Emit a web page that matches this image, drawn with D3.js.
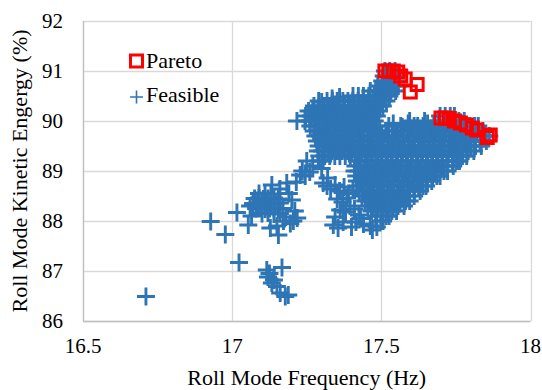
<!DOCTYPE html>
<html>
<head>
<meta charset="utf-8">
<script src="https://cdn.jsdelivr.net/npm/d3@7"></script>
<style>
  body { margin: 0; background: #fff; }
  svg text { font-family: "Liberation Serif", "Times New Roman", serif; fill: #000; }
</style>
</head>
<body>
<svg id="chart" width="542" height="390"></svg>
<script>
// axis ticks
var xTicks = [16.5, 17, 17.5, 18];
var yTicks = [86, 87, 88, 89, 90, 91, 92];

// Pareto front (red squares)
var paretoX = [17.512, 17.525, 17.54, 17.555, 17.565, 17.58, 17.62, 17.597,
               17.70, 17.715, 17.728, 17.745, 17.765, 17.785, 17.805, 17.82, 17.855, 17.865];
var paretoY = [91.0, 91.0, 91.0, 90.98, 90.9, 90.84, 90.73, 90.58,
               90.06, 90.06, 90.05, 90.0, 89.96, 89.92, 89.86, 89.82, 89.67, 89.72];

// feasible designs, main cloud read row by row: [kinetic energy, [frequencies]]
var feasibleRows = [
  [91.0, [17.512, 17.528, 17.546]],
  [90.9, [17.508, 17.522, 17.54, 17.553]],
  [90.8, [17.503, 17.518, 17.535, 17.556]],
  [90.7, [17.488, 17.505, 17.524, 17.541, 17.557]],
  [90.6, [17.463, 17.481, 17.497, 17.515, 17.532, 17.548]],
  [90.5, [17.405, 17.423, 17.44, 17.458, 17.476, 17.493, 17.511, 17.527]],
  [90.4, [17.318, 17.336, 17.352, 17.371, 17.388, 17.404, 17.422, 17.439, 17.457, 17.474, 17.49, 17.504, 17.517]],
  [90.3, [17.274, 17.291, 17.308, 17.326, 17.343, 17.361, 17.377, 17.395, 17.413, 17.43, 17.447, 17.464, 17.482, 17.494, 17.505]],
  [90.2, [17.256, 17.27, 17.288, 17.304, 17.322, 17.338, 17.356, 17.372, 17.39, 17.406, 17.424, 17.44, 17.458, 17.474, 17.492]],
  [90.1, [17.246, 17.264, 17.281, 17.298, 17.316, 17.333, 17.35, 17.368, 17.385, 17.402, 17.42, 17.437, 17.454, 17.47, 17.485,
          17.697, 17.714, 17.731, 17.745]],
  [90.0, [17.217, 17.244, 17.26, 17.277, 17.294, 17.311, 17.328, 17.345, 17.362, 17.379, 17.396, 17.413, 17.43, 17.447, 17.464, 17.478,
          17.595, 17.645, 17.692, 17.709, 17.726, 17.743, 17.76, 17.778]],
  [89.9, [17.262, 17.279, 17.297, 17.314, 17.332, 17.349, 17.366, 17.384, 17.401, 17.418, 17.436, 17.453, 17.468, 17.478,
          17.525, 17.565, 17.61, 17.64, 17.676, 17.693, 17.71, 17.727, 17.745, 17.762, 17.779, 17.796, 17.813, 17.825]],
  [89.8, [17.273, 17.288, 17.306, 17.322, 17.34, 17.356, 17.374, 17.39, 17.408, 17.424, 17.442, 17.458, 17.476, 17.494, 17.515,
          17.548, 17.585, 17.62, 17.65, 17.668, 17.684, 17.702, 17.718, 17.736, 17.752, 17.77, 17.786, 17.804, 17.82, 17.84]],
  [89.7, [17.279, 17.295, 17.314, 17.329, 17.348, 17.364, 17.383, 17.398, 17.417, 17.433, 17.452, 17.467, 17.486, 17.502, 17.521,
          17.536, 17.555, 17.571, 17.59, 17.605, 17.624, 17.64, 17.659, 17.674, 17.693, 17.709, 17.728, 17.743, 17.762, 17.778,
          17.797, 17.812, 17.831, 17.847, 17.862]],
  [89.6, [17.284, 17.303, 17.318, 17.337, 17.351, 17.37, 17.386, 17.405, 17.42, 17.439, 17.454, 17.473, 17.489, 17.508, 17.522,
          17.541, 17.557, 17.576, 17.591, 17.61, 17.625, 17.644, 17.66, 17.679, 17.694, 17.713, 17.728, 17.747, 17.763, 17.782,
          17.796, 17.815, 17.831, 17.852]],
  [89.5, [17.29, 17.306, 17.324, 17.341, 17.357, 17.375, 17.392, 17.408, 17.426, 17.443, 17.459, 17.477, 17.494, 17.51, 17.528,
          17.545, 17.561, 17.579, 17.596, 17.612, 17.63, 17.647, 17.663, 17.681, 17.698, 17.714, 17.732, 17.749, 17.765, 17.783,
          17.8, 17.816, 17.835]],
  [89.4, [17.287, 17.301, 17.32, 17.335, 17.353, 17.369, 17.387, 17.402, 17.421, 17.436, 17.454, 17.47, 17.488, 17.503, 17.522,
          17.537, 17.555, 17.571, 17.589, 17.604, 17.623, 17.638, 17.656, 17.672, 17.69, 17.705, 17.724, 17.739, 17.757, 17.773,
          17.791, 17.81]],
  [89.3, [17.292, 17.31, 17.327, 17.344, 17.361, 17.379, 17.396, 17.413, 17.43, 17.448, 17.465, 17.482, 17.499, 17.517, 17.534,
          17.551, 17.568, 17.586, 17.603, 17.62, 17.637, 17.655, 17.672, 17.689, 17.706, 17.724, 17.741, 17.758, 17.772, 17.786]],
  [89.2, [17.289, 17.305, 17.418, 17.432, 17.451, 17.466, 17.484, 17.5, 17.519, 17.534, 17.552, 17.568, 17.587, 17.602, 17.62,
          17.636, 17.655, 17.67, 17.688, 17.704, 17.723, 17.738, 17.752, 17.762]],
  [89.1, [17.413, 17.431, 17.447, 17.465, 17.481, 17.499, 17.515, 17.533, 17.549, 17.567, 17.583, 17.601, 17.617, 17.635, 17.651,
          17.669, 17.685, 17.703, 17.719, 17.741]],
  [89.0, [17.41, 17.424, 17.442, 17.458, 17.476, 17.492, 17.51, 17.526, 17.544, 17.56, 17.578, 17.594, 17.612, 17.628, 17.646,
          17.662, 17.68, 17.696, 17.71, 17.722]],
  [88.9, [17.416, 17.434, 17.45, 17.468, 17.484, 17.502, 17.518, 17.536, 17.552, 17.57, 17.586, 17.604, 17.62, 17.638, 17.654,
          17.672, 17.686, 17.697]],
  [88.8, [17.418, 17.433, 17.451, 17.467, 17.485, 17.501, 17.519, 17.535, 17.553, 17.569, 17.587, 17.603, 17.621, 17.637, 17.655, 17.669]],
  [88.7, [17.421, 17.439, 17.455, 17.473, 17.489, 17.507, 17.523, 17.541, 17.557, 17.575, 17.591, 17.609, 17.625, 17.64, 17.65]],
  [88.6, [17.426, 17.441, 17.459, 17.475, 17.493, 17.509, 17.527, 17.543, 17.561, 17.577, 17.595, 17.611, 17.63]],
  [88.5, [17.435, 17.452, 17.468, 17.486, 17.502, 17.52, 17.536, 17.554, 17.57, 17.588, 17.61]],
  [88.4, [17.446, 17.461, 17.479, 17.495, 17.513, 17.529, 17.547, 17.563, 17.581, 17.595]],
  [88.3, [17.455, 17.472, 17.488, 17.506, 17.522, 17.54, 17.556, 17.576]],
  [88.2, [17.467, 17.483, 17.501, 17.517, 17.535, 17.551]],
  [88.1, [17.481, 17.5, 17.516, 17.526]],
  [88.0, [17.498, 17.506]]
];

// feasible designs outside the main cloud: [frequency, kinetic energy]
var feasibleScatter = [
  [16.711, 86.49], [16.928, 87.99], [16.977, 87.73], [17.023, 87.17], [17.016, 88.17], [17.054, 87.92],
  [17.09, 88.55], [17.11, 88.56], [17.13, 88.54], [17.075, 88.45], [17.09, 88.46], [17.105, 88.44], [17.12, 88.45],
  [17.14, 88.46], [17.155, 88.44], [17.07, 88.35], [17.085, 88.36], [17.10, 88.34], [17.115, 88.36], [17.13, 88.35],
  [17.145, 88.34], [17.16, 88.36], [17.08, 88.25], [17.095, 88.26], [17.11, 88.24], [17.125, 88.25], [17.14, 88.26],
  [17.155, 88.24], [17.17, 88.25], [17.10, 88.15], [17.12, 88.16], [17.14, 88.14], [17.16, 88.15],
  [17.133, 88.72], [17.183, 88.76], [17.228, 88.92], [17.16, 88.64], [17.19, 88.55], [17.2, 88.42], [17.21, 88.2],
  [17.18, 88.08], [17.218, 88.06], [17.205, 88.0], [17.195, 87.95], [17.172, 88.0], [17.155, 87.72], [17.128, 87.86],
  [17.15, 87.9], [17.06, 88.3], [17.065, 88.1],
  [17.116, 87.02], [17.12, 86.88], [17.133, 86.76], [17.15, 86.69], [17.161, 86.56], [17.178, 86.49], [17.188, 86.52],
  [17.167, 87.07], [17.125, 86.95], [17.14, 86.82],
  [17.30, 89.05], [17.235, 89.0], [17.245, 88.9], [17.215, 88.78], [17.305, 88.76], [17.318, 88.7], [17.33, 88.64],
  [17.345, 88.72], [17.36, 88.6], [17.375, 88.68], [17.39, 88.55], [17.405, 88.62], [17.352, 88.44], [17.37, 88.38],
  [17.385, 88.46], [17.395, 88.3], [17.362, 88.22], [17.38, 88.18], [17.41, 88.24], [17.425, 88.12], [17.345, 88.08],
  [17.372, 87.98], [17.339, 87.92], [17.355, 87.86], [17.40, 87.88], [17.415, 87.98], [17.44, 87.94], [17.463, 87.9],
  [17.47, 87.82], [17.485, 87.88], [17.43, 88.05], [17.25, 89.2], [17.27, 89.1], [17.26, 88.98], [17.32, 88.86],
  [17.59, 89.95], [17.6, 89.85], [17.622, 89.9], [17.632, 89.78], [17.655, 89.95], [17.57, 89.88], [17.54, 89.95],
  [17.36, 90.48], [17.335, 90.45], [17.30, 90.38], [17.29, 90.4]
];

var svg = d3.select("#chart");
var plotLeft = 83, plotRight = 530.5, plotTop = 21, plotBottom = 321;

var x = d3.scaleLinear().domain([16.5, 18]).range([plotLeft, plotRight]);
var y = d3.scaleLinear().domain([86, 92]).range([plotBottom, plotTop]);

// gridlines
svg.append("g").selectAll("line")
  .data(yTicks).enter().append("line")
    .attr("x1", plotLeft).attr("x2", plotRight)
    .attr("y1", function(d) { return Math.round(y(d)) + 0.5; })
    .attr("y2", function(d) { return Math.round(y(d)) + 0.5; })
    .attr("stroke", "#d9d9d9").attr("stroke-width", 1.3);
svg.append("g").selectAll("line")
  .data(xTicks).enter().append("line")
    .attr("y1", plotTop).attr("y2", plotBottom)
    .attr("x1", function(d) { return Math.round(x(d)) + 0.5; })
    .attr("x2", function(d) { return Math.round(x(d)) + 0.5; })
    .attr("stroke", "#d9d9d9").attr("stroke-width", 1.3);

// axis lines
svg.append("line").attr("x1", plotLeft + 0.5).attr("x2", plotLeft + 0.5).attr("y1", plotTop).attr("y2", plotBottom + 0.5)
  .attr("stroke", "#bfbfbf").attr("stroke-width", 1.3);
svg.append("line").attr("x1", plotLeft).attr("x2", plotRight).attr("y1", plotBottom + 0.5).attr("y2", plotBottom + 0.5)
  .attr("stroke", "#bfbfbf").attr("stroke-width", 1.3);

// tick labels
svg.append("g").selectAll("text")
  .data(xTicks).enter().append("text")
    .attr("x", function(d) { return x(d); })
    .attr("y", 353)
    .attr("text-anchor", "middle")
    .style("font-size", "21px")
    .text(function(d) { return d; });
svg.append("g").selectAll("text")
  .data(yTicks).enter().append("text")
    .attr("x", 63)
    .attr("y", function(d) { return y(d); })
    .attr("dy", "0.35em")
    .attr("text-anchor", "end")
    .style("font-size", "21px")
    .text(function(d) { return d; });

// axis titles
svg.append("text")
  .attr("x", (plotLeft + plotRight) / 2).attr("y", 385)
  .attr("text-anchor", "middle")
  .style("font-size", "22px")
  .text("Roll Mode Frequency (Hz)");
svg.append("text")
  .attr("transform", "translate(27," + ((plotTop + plotBottom) / 2) + ") rotate(-90)")
  .attr("text-anchor", "middle")
  .style("font-size", "22px")
  .text("Roll Mode Kinetic Engergy (%)");

// flatten the feasible cloud
var feasible = [];
feasibleRows.forEach(function(r) {
  r[1].forEach(function(fx) { feasible.push([fx, r[0]]); });
});
feasibleScatter.forEach(function(p) { feasible.push(p); });

function plus(cx, cy, s) {
  return "M" + (cx - s) + "," + cy + "H" + (cx + s) + "M" + cx + "," + (cy - s) + "V" + (cy + s);
}

svg.append("g").selectAll("path")
  .data(feasible).enter().append("path")
    .attr("d", function(d) { return plus(x(d[0]), y(d[1]), 9); })
    .attr("stroke", "#2e75b6")
    .attr("stroke-width", 2.9)
    .attr("fill", "none");

var pareto = paretoX.map(function(v, i) { return [v, paretoY[i]]; });
svg.append("g").selectAll("rect")
  .data(pareto).enter().append("rect")
    .attr("x", function(d) { return x(d[0]) - 6; })
    .attr("y", function(d) { return y(d[1]) - 6; })
    .attr("width", 12).attr("height", 12)
    .attr("fill", "none")
    .attr("stroke", "#ff0000")
    .attr("stroke-width", 3);

// legend
var lg = svg.append("g");
lg.append("rect").attr("x", 130.5).attr("y", 55).attr("width", 12).attr("height", 12)
  .attr("fill", "none").attr("stroke", "#ff0000").attr("stroke-width", 3);
lg.append("text").attr("x", 146).attr("y", 68).style("font-size", "22px").text("Pareto");
lg.append("path").attr("d", plus(136.5, 97, 6.5))
  .attr("stroke", "#2e75b6").attr("stroke-width", 1.6).attr("fill", "none");
lg.append("text").attr("x", 146).attr("y", 102).style("font-size", "22px").text("Feasible");
</script>
</body>
</html>
